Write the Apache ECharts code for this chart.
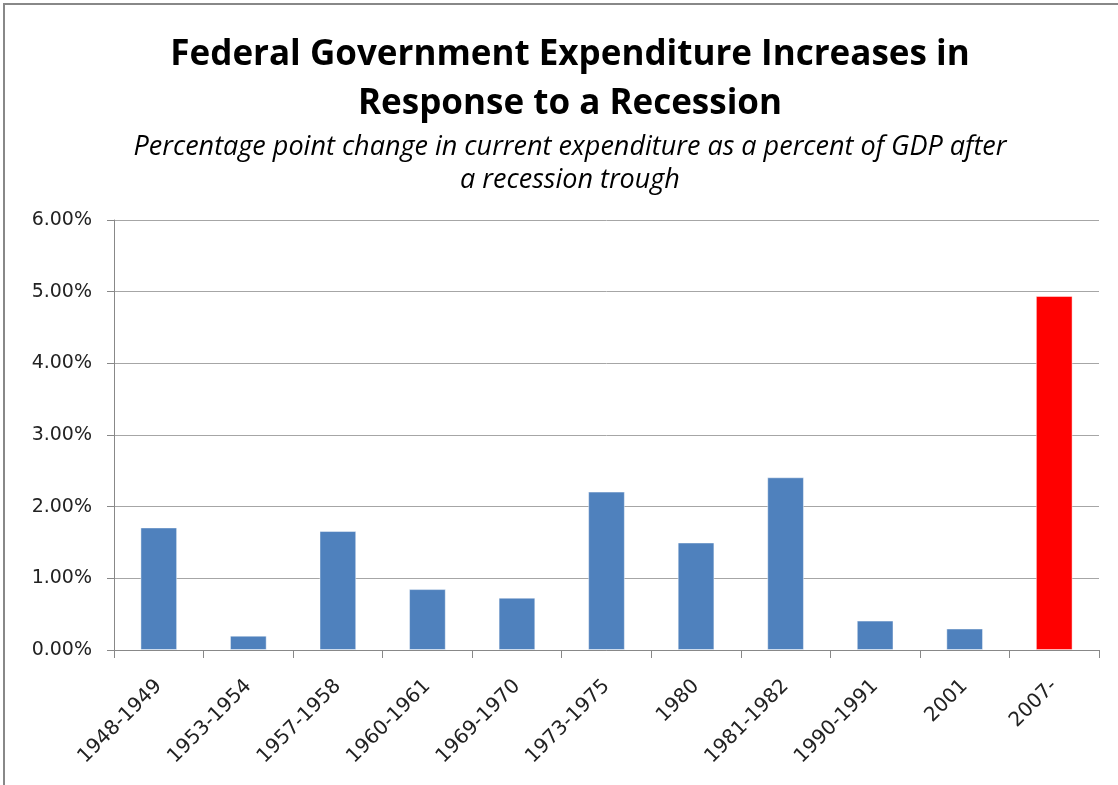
<!DOCTYPE html>
<html>
<head>
<meta charset="utf-8">
<script src="https://cdn.jsdelivr.net/npm/echarts@6/dist/echarts.min.js"></script>
<style>
  html, body { margin: 0; padding: 0; background: #fff; }
  #chart { width: 1118px; height: 785px; }
</style>
</head>
<body>
<div id="chart"></div>
<script>
// recession periods on the x axis
var periods = ['1948-1949', '1953-1954', '1957-1958', '1960-1961', '1969-1970',
  '1973-1975', '1980', '1981-1982', '1990-1991', '2001', '2007-'];
// percentage point change (percent of GDP)
var changes = [1.71, 0.20, 1.66, 0.85, 0.73, 2.21, 1.50, 2.41, 0.41, 0.30, 4.94];
var highlighted = '2007-'; // the current recession, drawn in red

var chart = echarts.init(document.getElementById('chart'));

var option = {
  backgroundColor: '#fff',
  animation: false,
  graphic: [
    {
      // frame of the chart area (only top and left edges visible)
      type: 'rect',
      shape: { x: 4, y: 4, width: 1300, height: 1000 },
      style: { fill: 'none', stroke: '#888', lineWidth: 2 }
    }
  ],
  title: [
    {
      text: 'Federal Government Expenditure Increases in\nResponse to a Recession',
      left: 565,
      top: 26,
      textAlign: 'center',
      textStyle: {
        fontFamily: 'Open Sans',
        fontWeight: 'bold',
        fontSize: 35,
        lineHeight: 49,
        color: '#000'
      }
    },
    {
      text: 'Percentage point change in current expenditure as a percent of GDP after\na recession trough',
      left: 565,
      top: 126,
      textAlign: 'center',
      textStyle: {
        fontFamily: 'Open Sans',
        fontStyle: 'italic',
        fontWeight: 'normal',
        fontSize: 27,
        lineHeight: 33,
        color: '#000'
      }
    }
  ],
  grid: {
    left: 114,
    right: 19,
    top: 220,
    bottom: 135
  },
  xAxis: {
    type: 'category',
    data: periods,
    axisLine: { lineStyle: { color: '#888', width: 1 } },
    axisTick: { show: true, length: 8, alignWithLabel: false, lineStyle: { color: '#888' } },
    axisLabel: {
      rotate: 45,
      margin: 33,
      fontFamily: 'DejaVu Sans',
      fontSize: 20,
      color: '#222'
    }
  },
  yAxis: {
    type: 'value',
    min: 0,
    max: 6,
    interval: 1,
    axisLine: { show: true, lineStyle: { color: '#888', width: 1 } },
    axisTick: { show: true, length: 7, lineStyle: { color: '#888' } },
    splitLine: { lineStyle: { color: '#a6a6a6', width: 1 } },
    axisLabel: {
      margin: 22,
      fontFamily: 'DejaVu Sans',
      fontSize: 19,
      color: '#222',
      formatter: function (v) { return v.toFixed(2) + '%'; }
    }
  },
  series: [
    {
      type: 'bar',
      data: changes,
      barWidth: '41%',
      itemStyle: {
        color: function (p) {
          return p.name === highlighted ? '#ff0000' : '#4f81bd';
        },
        borderColor: 'rgba(255,255,255,0.45)',
        borderWidth: 1
      }
    }
  ]
};

chart.setOption(option);
</script>
</body>
</html>
